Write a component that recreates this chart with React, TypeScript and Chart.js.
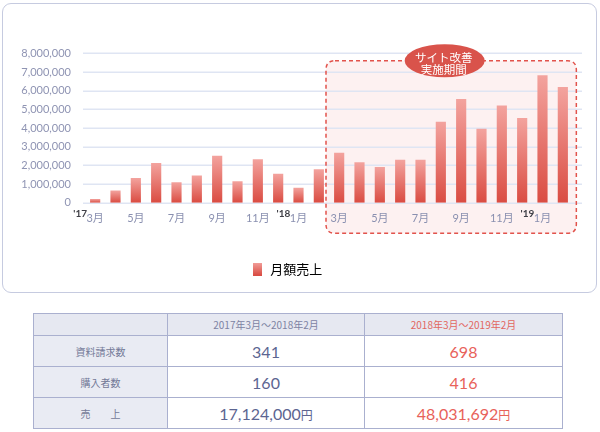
import { useEffect, useRef } from 'react';
import { Chart, registerables } from 'chart.js';

Chart.register(...registerables);

// monthly sales, 2017/03 - 2019/02
const months = [
  '3月', '4月', '5月', '6月', '7月', '8月', '9月', '10月', '11月', '12月', '1月', '2月',
  '3月', '4月', '5月', '6月', '7月', '8月', '9月', '10月', '11月', '12月', '1月', '2月',
];
const sales = [
  200000, 650000, 1320000, 2120000, 1100000, 1460000, 2510000, 1150000, 2330000, 1550000, 800000, 1790000,
  2680000, 2160000, 1910000, 2300000, 2300000, 4340000, 5550000, 3960000, 5210000, 4530000, 6820000, 6190000,
];
const yearMarkIndex = [0, 10, 22];
const yearMarkText = ["'17", "'18", "'19"];
const yTicks = [0, 1000000, 2000000, 3000000, 4000000, 5000000, 6000000, 7000000, 8000000];
const legendLabel = '月額売上';
const periodStart = 12; // 2018年3月
const periodEnd = 23; // 2019年2月
const periodTop = 7600000;
const badgeLines = ['サイト改善', '実施期間'];

const rowLabels = ['資料請求数', '購入者数', '売　　上'];
const periodLabels = ['2017年3月～2018年2月', '2018年3月～2019年2月'];
const beforeValues = ['341', '160', '17,124,000'];
const afterValues = ['698', '416', '48,031,692'];
const units = ['', '', '円'];

const FONT = "Lato, 'Noto Sans CJK JP', sans-serif";
const JP = "'Noto Sans CJK JP', Lato, sans-serif";

function roundRect(ctx: CanvasRenderingContext2D, x: number, y: number, w: number, h: number, r: number) {
  ctx.beginPath();
  ctx.moveTo(x + r, y);
  ctx.lineTo(x + w - r, y);
  ctx.quadraticCurveTo(x + w, y, x + w, y + r);
  ctx.lineTo(x + w, y + h - r);
  ctx.quadraticCurveTo(x + w, y + h, x + w - r, y + h);
  ctx.lineTo(x + r, y + h);
  ctx.quadraticCurveTo(x, y + h, x, y + h - r);
  ctx.lineTo(x, y + r);
  ctx.quadraticCurveTo(x, y, x + r, y);
  ctx.closePath();
}

function periodBox(chart: any) {
  const x = chart.scales.x;
  const y = chart.scales.y;
  const left = (x.getPixelForValue(periodStart - 1) + x.getPixelForValue(periodStart)) / 2 - 3;
  const right = x.getPixelForValue(periodEnd) + 13.5;
  const top = y.getPixelForValue(periodTop);
  const bottom = y.getPixelForValue(0) + 30.5;
  return { left, right, top, bottom };
}

const decorPlugin = {
  id: 'decor',
  beforeDraw(chart: any) {
    const ctx = chart.ctx as CanvasRenderingContext2D;
    const { chartArea } = chart;
    const b = periodBox(chart);
    ctx.save();
    roundRect(ctx, b.left, b.top, b.right - b.left, b.bottom - b.top, 9);
    ctx.fillStyle = 'rgba(248, 215, 215, 0.35)';
    ctx.fill();
    // horizontal gridlines, a little wider than the plot
    ctx.strokeStyle = '#dfe5f3';
    ctx.lineWidth = 1.5;
    for (const v of yTicks) {
      const py = Math.round(chart.scales.y.getPixelForValue(v)) + 0.25;
      ctx.beginPath();
      ctx.moveTo(chartArea.left - 2, py);
      ctx.lineTo(chartArea.right + 9, py);
      ctx.stroke();
    }
    ctx.restore();
  },
  afterDatasetsDraw(chart: any) {
    const ctx = chart.ctx as CanvasRenderingContext2D;
    const b = periodBox(chart);
    ctx.save();
    roundRect(ctx, b.left, b.top, b.right - b.left, b.bottom - b.top, 9);
    ctx.setLineDash([4, 3]);
    ctx.strokeStyle = '#e2534c';
    ctx.lineWidth = 1.5;
    ctx.stroke();
    ctx.setLineDash([]);

    const cx = (b.left + b.right) / 2 - 6.5;
    const cy = b.top;
    ctx.beginPath();
    ctx.ellipse(cx, cy, 40, 16.5, 0, 0, Math.PI * 2);
    ctx.fillStyle = '#d9534b';
    ctx.fill();
    ctx.fillStyle = '#ffffff';
    ctx.font = `11.5px ${JP}`;
    ctx.textAlign = 'center';
    ctx.textBaseline = 'middle';
    ctx.fillText(badgeLines[0], cx - 1, cy - 3);
    ctx.fillText(badgeLines[1], cx - 1, cy + 8.5);

    // year marks next to the month ticks
    const xs = chart.scales.x;
    ctx.font = `11px ${FONT}`;
    const labelY = xs.top + 15.5;
    yearMarkIndex.forEach((idx, i) => {
      const px = xs.getPixelForTick(idx);
      const w = ctx.measureText(months[idx]).width;
      ctx.font = `bold 10px ${FONT}`;
      ctx.fillStyle = '#3f3f46';
      ctx.textAlign = 'right';
      ctx.textBaseline = 'middle';
      ctx.fillText(yearMarkText[i], px - w / 2 + 0.5, labelY - 4);
      ctx.font = `11px ${FONT}`;
    });
    ctx.restore();
  },
};

function legendSwatch() {
  const c = document.createElement('canvas');
  c.width = 9;
  c.height = 13;
  const g = c.getContext('2d')!;
  const grad = g.createLinearGradient(0, 0, 0, 13);
  grad.addColorStop(0, '#f2a09b');
  grad.addColorStop(1, '#d94a41');
  g.fillStyle = grad;
  g.fillRect(0, 0, 9, 13);
  return c;
}

function SalesChart() {
  const chartRef = useRef<HTMLCanvasElement>(null);
  const chartInstance = useRef<Chart | null>(null);

  useEffect(() => {
    if (!chartRef.current) return;
    if (chartInstance.current) chartInstance.current.destroy();
    const ctx = chartRef.current.getContext('2d');
    if (!ctx) return;
    const swatch = legendSwatch();

    chartInstance.current = new Chart(ctx, {
      type: 'bar',
      data: {
        labels: months,
        datasets: [
          {
            label: legendLabel,
            data: sales,
            barPercentage: 0.5,
            categoryPercentage: 1,
            backgroundColor: (c: any) => {
              const chart = c.chart;
              if (!chart.chartArea || c.type !== 'data') return '#e46a62';
              const top = chart.scales.y.getPixelForValue(c.raw);
              const bottom = chart.scales.y.getPixelForValue(0);
              const g = chart.ctx.createLinearGradient(0, top, 0, bottom);
              g.addColorStop(0, '#f3a39e');
              g.addColorStop(1, '#da4c42');
              return g;
            },
          },
        ],
      },
      options: {
        responsive: true,
        maintainAspectRatio: false,
        animation: false,
        layout: { padding: { left: 0, right: 27, top: 53.3, bottom: 14.5 } },
        plugins: {
          tooltip: { enabled: false },
          legend: {
            position: 'bottom',
            labels: {
              usePointStyle: true,
              padding: 10,
              color: '#6b7090',
              font: { family: JP, size: 13 },
              generateLabels: () => [
                { text: legendLabel, pointStyle: swatch as any, fillStyle: '#e46a62', strokeStyle: 'transparent', lineWidth: 0, hidden: false, datasetIndex: 0 },
              ],
            },
          },
        },
        scales: {
          x: {
            grid: { display: false, drawTicks: false },
            border: { display: false },
            afterFit: (s: any) => { s.height = 49.8; },
            ticks: {
              autoSkip: false,
              maxRotation: 0,
              padding: 9,
              color: '#8a90b0',
              font: { family: FONT, size: 11 },
              callback: (_v: any, i: number) => (i % 2 === 0 ? months[i] : ''),
            },
          },
          y: {
            min: 0,
            max: 8000000,
            grid: { display: false, drawTicks: false },
            border: { display: false },
            afterFit: (s: any) => { s.width = 85; },
            ticks: {
              stepSize: 1000000,
              padding: 14,
              color: '#8f94b3',
              font: { family: FONT, size: 11 },
              callback: (v: any) => Number(v).toLocaleString('en-US'),
            },
          },
        },
      },
      plugins: [decorPlugin],
    });

    return () => {
      if (chartInstance.current) {
        chartInstance.current.destroy();
        chartInstance.current = null;
      }
    };
  }, []);

  return (
    <div style={{ position: 'absolute', left: 0, top: 0, width: 600, height: 300 }}>
      <canvas ref={chartRef} />
    </div>
  );
}

const border = '1.5px solid #aab0cf';
const headCell = { background: '#e6e8f1', border, padding: 0, fontFamily: JP, fontSize: 10, color: '#7d83a3', textAlign: 'center' as const };
const labelCell = { background: '#e9ebf3', border, padding: 0, fontFamily: JP, fontSize: 10, color: '#737997', textAlign: 'center' as const };
const valueCell = { background: '#ffffff', border, padding: 0, fontFamily: FONT, fontSize: 16, textAlign: 'center' as const };

function SummaryTable() {
  return (
    <table
      style={{
        position: 'absolute',
        left: 33,
        top: 313,
        width: 530,
        borderCollapse: 'collapse',
        tableLayout: 'fixed',
      }}
    >
      <colgroup>
        <col style={{ width: 134 }} />
        <col style={{ width: 197 }} />
        <col style={{ width: 198 }} />
      </colgroup>
      <tbody>
        <tr style={{ height: 22 }}>
          <td style={headCell}></td>
          <td style={headCell}>{periodLabels[0]}</td>
          <td style={{ ...headCell, color: '#e2675f' }}>{periodLabels[1]}</td>
        </tr>
        {rowLabels.map((label, i) => (
          <tr key={label} style={{ height: 31 }}>
            <td style={labelCell}>{label}</td>
            <td style={{ ...valueCell, color: '#5c6591' }}>
              {beforeValues[i]}
              {units[i] && <span style={{ fontFamily: JP, fontSize: 12 }}>{units[i]}</span>}
            </td>
            <td style={{ ...valueCell, color: '#e8625a' }}>
              {afterValues[i]}
              {units[i] && <span style={{ fontFamily: JP, fontSize: 12 }}>{units[i]}</span>}
            </td>
          </tr>
        ))}
      </tbody>
    </table>
  );
}

export default function App() {
  return (
    <div style={{ position: 'relative', width: 600, height: 432, background: '#ffffff', overflow: 'hidden' }}>
      <style>{'body{margin:0;}'}</style>
      <div
        style={{
          position: 'absolute',
          left: 2,
          top: 3,
          width: 595,
          height: 290,
          border: '1.5px solid #c6cbe0',
          borderRadius: 9,
          boxSizing: 'border-box',
        }}
      />
      <SalesChart />
      <SummaryTable />
    </div>
  );
}
